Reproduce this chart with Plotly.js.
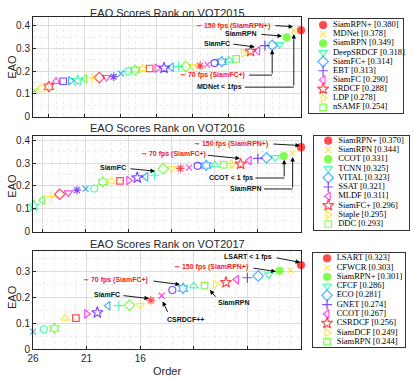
<!DOCTYPE html>
<html><head><meta charset="utf-8">
<script src="https://cdn.plot.ly/plotly-3.0.1.min.js"></script>
<style>html,body{margin:0;padding:0;background:#fff}#chart{width:414px;height:379px}</style>
</head><body><div id="chart"></div>
<script>
// ---------------- data ----------------
const titles = ['EAO Scores Rank on VOT2015', 'EAO Scores Rank on VOT2016', 'EAO Scores Rank on VOT2017'];
const yLabel = 'EAO';
const xLabel = 'Order';

// EAO by rank (rank 1 first)
const eao2015 = [0.380, 0.378, 0.349, 0.318, 0.314, 0.313, 0.290, 0.288, 0.278, 0.254,
  0.248, 0.242, 0.236, 0.229, 0.224, 0.222, 0.221, 0.221, 0.218, 0.214,
  0.213, 0.212, 0.212, 0.205, 0.199, 0.190, 0.176, 0.173, 0.172, 0.171,
  0.167, 0.159, 0.158, 0.156, 0.155, 0.132, 0.124, 0.114];
const names2015 = ['SiamRPN+', 'MDNet', 'SiamRPN', 'DeepSRDCF', 'SiamFC+', 'EBT', 'SiamFC', 'SRDCF', 'LDP', 'nSAMF'];

const eao2016 = [0.370, 0.344, 0.331, 0.325, 0.323, 0.321, 0.311, 0.296, 0.295, 0.293,
  0.292, 0.290, 0.288, 0.280, 0.277, 0.276, 0.275, 0.247, 0.240, 0.236,
  0.224, 0.222, 0.221, 0.218, 0.189, 0.188, 0.182, 0.170, 0.164, 0.154,
  0.138, 0.113];
const names2016 = ['SiamRPN+', 'SiamRPN', 'CCOT', 'TCNN', 'VITAL', 'SSAT', 'MLDF', 'SiamFC+', 'Staple', 'DDC'];

const eao2017 = [0.323, 0.303, 0.301, 0.286, 0.281, 0.274, 0.267, 0.256, 0.249, 0.244,
  0.242, 0.233, 0.227, 0.205, 0.187, 0.168, 0.168, 0.167, 0.166, 0.140,
  0.135, 0.119, 0.118, 0.079, 0.076, 0.067];
const names2017 = ['LSART', 'CFWCR', 'SiamRPN+', 'CFCF', 'ECO', 'GNET', 'CCOT', 'CSRDCF', 'SiamDCF', 'SiamRPN'];

const xTicks2017 = [26, 21, 16, 11, 6, 1];
const xTickText2017 = ['26', '21', '16', '', '', ''];

// ---------------- styles ----------------
const hsv7 = ['#ff0000', '#ffdb00', '#49ff00', '#00ff92', '#0092ff', '#4900ff', '#ff00db'];
const symCycle = ['circle-open', 'x-thin-open', 'asterisk-open', 'triangle-down-open', 'diamond-open',
  'cross-thin-open', 'triangle-left-open', 'star-open', 'triangle-right-open', 'square-open',
  'triangle-up-open', 'hexagram-open'];
const symSize = {'circle': 7, 'circle-open': 7, 'x-thin-open': 6, 'asterisk-open': 7, 'triangle-down-open': 7.5,
  'diamond-open': 8, 'cross-thin-open': 7, 'triangle-left-open': 7.5, 'star-open': 8.5,
  'triangle-right-open': 7.5, 'square-open': 6.5, 'triangle-up-open': 7.5, 'hexagram-open': 8};
function styleFor(rank) {
  let sym = symCycle[(rank - 1) % 12];
  if (rank === 1 || rank === 3) sym = 'circle';
  return {color: hsv7[(rank - 1) % 7], sym: sym, size: symSize[sym]};
}

const W = 414, H = 379;
const fx = px => px / W;
const fy = py => 1 - py / H;
const plotX = [33, 301];
const panelY = [[16.7, 116.7], [135.7, 231.7], [251, 349]];
const yMax = [0.44, 0.42, 0.377];
const xMax = [38.2, 32.1, 26];
const titleY = [12.7, 128.3, 243.5];
const eaoLabelY = [66.7, 185.7, 297];
const legBox = [
  {x: [309, 403], y: [19, 113], r: [10.62, 0.344]},
  {x: [314, 409], y: [136, 230], r: [10.65, 0.49]},
  {x: [313.3, 405], y: [253.3, 346.7], r: [10.54, 0.46]}
];

const panels = [
  {vals: eao2015, names: names2015, ticks: [36, 31, 26, 21, 16, 11, 6, 1], labels: null},
  {vals: eao2016, names: names2016, ticks: [31, 26, 21, 16, 11, 6, 1], labels: null},
  {vals: eao2017, names: names2017, ticks: xTicks2017, labels: xTickText2017}
];

const RED = '#ee1c1c', BLK = '#111111';
// callouts: text position + path (last segment carries the arrow)
const callouts = [
  {p: 0, text: '∼ 150 fps (SiamRPN+)', c: RED, at: [10.44, 0.399], path: [[4.75, 0.401], [2.1, 0.396]]},
  {p: 0, text: 'SiamRPN', c: BLK, at: [9.3, 0.364], path: [[6.7, 0.3625], [3.64, 0.355]]},
  {p: 0, text: 'SiamFC', c: BLK, at: [12.7, 0.324], path: [[10.6, 0.32], [7.4, 0.307]]},
  {p: 0, text: '∼ 70 fps (SiamFC+)', c: RED, at: [13.3, 0.183], path: [[8.2, 0.183], [5.0, 0.183], [5.0, 0.295]]},
  {p: 0, text: 'MDNet < 1fps', c: BLK, at: [12.25, 0.13], path: [[8.8, 0.13], [2.0, 0.13], [2.0, 0.364]]},

  {p: 1, text: '∼ 150 fps (SiamRPN+)', c: RED, at: [9.12, 0.384], path: [[4.37, 0.384], [1.12, 0.377]]},
  {p: 1, text: '∼ 70 fps (SiamFC+)', c: RED, at: [15.85, 0.34], path: [[12.0, 0.335], [8.08, 0.32]]},
  {p: 1, text: 'SiamFC', c: BLK, at: [22.76, 0.279], path: [[20.96, 0.276], [17.94, 0.265]]},
  {p: 1, text: 'CCOT < 1 fps', c: BLK, at: [9.18, 0.235], path: [[6.3, 0.235], [2.95, 0.235], [2.95, 0.315]]},
  {p: 1, text: 'SiamRPN', c: BLK, at: [7.38, 0.187], path: [[5.3, 0.187], [1.97, 0.187], [1.97, 0.327]]},

  {p: 2, text: 'LSART < 1 fps', c: BLK, at: [5.94, 0.354], path: [[3.43, 0.352], [1.09, 0.333]]},
  {p: 2, text: '∼ 150 fps (SiamRPN+)', c: RED, at: [9.4, 0.315], path: [[5.57, 0.312], [3.35, 0.298]]},
  {p: 2, text: '∼ 70 fps (SiamFC+)', c: RED, at: [18.26, 0.265], path: [[14.9, 0.262], [12.29, 0.248]]},
  {p: 2, text: 'SiamFC', c: BLK, at: [19.14, 0.208], path: [[17.7, 0.206], [15.18, 0.194]]},
  {p: 2, text: 'CSRDCF++', c: BLK, at: [11.73, 0.115], path: [[13.38, 0.137], [13.9, 0.183]]},
  {p: 2, text: 'SiamRPN', c: BLK, at: [7.25, 0.177], path: [[8.86, 0.195], [9.5, 0.227]]}
];

// ---------------- build ----------------
const traces = [];
const layout = {
  width: W, height: H, margin: {l: 0, r: 0, t: 0, b: 0},
  paper_bgcolor: '#fff', plot_bgcolor: '#fff', showlegend: false,
  font: {family: 'Liberation Sans, Arial, sans-serif', color: '#262626'},
  annotations: [], shapes: []
};
const tickFont = {family: 'Liberation Sans, Arial, sans-serif', size: 10, color: '#262626'};

panels.forEach((pn, i) => {
  const s = i === 0 ? '' : String(i + 1);
  const ranks = pn.vals.map((_, k) => k + 1);
  const st = ranks.map(styleFor);
  traces.push({
    type: 'scatter', mode: 'markers', x: ranks, y: pn.vals, xaxis: 'x' + s, yaxis: 'y' + s,
    cliponaxis: false, hoverinfo: 'skip',
    marker: {symbol: st.map(o => o.sym), color: st.map(o => o.color), size: st.map(o => o.size),
      line: {color: st.map(o => o.color), width: 1.2}}
  });
  layout['xaxis' + s] = {
    domain: [fx(plotX[0]), fx(plotX[1])], range: [xMax[i], 1], anchor: 'y' + s,
    tickmode: 'array', tickvals: pn.ticks, ticktext: pn.labels || pn.ticks.map(String),
    showticklabels: !!pn.labels, tickfont: tickFont,
    showline: true, mirror: true, linecolor: '#262626', linewidth: 1,
    ticks: 'inside', ticklen: 3, tickcolor: '#262626',
    showgrid: true, gridcolor: '#dcdcdc', gridwidth: 1, zeroline: false,
    minor: {tickmode: 'linear', tick0: 0, dtick: 1, showgrid: true, gridcolor: '#ececec', griddash: 'dot', ticks: ''}
  };
  layout['yaxis' + s] = {
    domain: [fy(panelY[i][1]), fy(panelY[i][0])], range: [0, yMax[i]], anchor: 'x' + s,
    tickmode: 'linear', tick0: 0, dtick: 0.1, tickformat: '.1~f', tickfont: tickFont,
    showline: true, mirror: true, linecolor: '#262626', linewidth: 1,
    ticks: 'inside', ticklen: 3, tickcolor: '#262626',
    showgrid: true, gridcolor: '#dcdcdc', gridwidth: 1, zeroline: false,
    minor: {tickmode: 'linear', tick0: 0, dtick: 0.05, showgrid: true, gridcolor: '#ececec', griddash: 'dot', ticks: ''}
  };
  // titles
  layout.annotations.push({xref: 'paper', yref: 'paper', x: fx(167), y: fy(titleY[i]), text: titles[i],
    showarrow: false, xanchor: 'center', yanchor: 'middle', font: {size: 11, color: '#262626'}});
  layout.annotations.push({xref: 'paper', yref: 'paper', x: fx(12), y: fy(eaoLabelY[i]), text: yLabel,
    textangle: -90, showarrow: false, xanchor: 'center', yanchor: 'middle', font: {size: 11, color: '#262626'}});

  // custom legend box (top 10)
  const L = legBox[i];
  const ls = String(i + 4);
  const top = pn.names.map((_, k) => k + 1);
  const tst = top.map(styleFor);
  traces.push({
    type: 'scatter', mode: 'markers', x: top.map(() => 0.15), y: top, xaxis: 'x' + ls, yaxis: 'y' + ls,
    cliponaxis: false, hoverinfo: 'skip',
    marker: {symbol: tst.map(o => o.sym), color: tst.map(o => o.color), size: tst.map(o => o.size),
      line: {color: tst.map(o => o.color), width: 1.2}}
  });
  traces.push({
    type: 'scatter', mode: 'text', x: top.map(() => 0.255), y: top, xaxis: 'x' + ls, yaxis: 'y' + ls,
    cliponaxis: false, hoverinfo: 'skip',
    text: pn.names.map((n, k) => n + ' [' + pn.vals[k].toFixed(3) + ']'),
    textposition: 'middle right',
    textfont: {family: 'Liberation Serif, Times New Roman, serif', size: 8.5, color: '#000'}
  });
  layout['xaxis' + ls] = {domain: [fx(L.x[0]), fx(L.x[1])], range: [0, 1], anchor: 'y' + ls,
    showline: true, mirror: true, linecolor: '#333', linewidth: 1.3, showgrid: false, zeroline: false,
    showticklabels: false, ticks: '', fixedrange: true};
  layout['yaxis' + ls] = {domain: [fy(L.y[1]), fy(L.y[0])], range: L.r, anchor: 'x' + ls,
    showline: true, mirror: true, linecolor: '#333', linewidth: 1.3, showgrid: false, zeroline: false,
    showticklabels: false, ticks: '', fixedrange: true};
});

layout.annotations.push({xref: 'paper', yref: 'paper', x: fx(167), y: fy(371), text: xLabel,
  showarrow: false, xanchor: 'center', yanchor: 'middle', font: {size: 11, color: '#262626'}});

callouts.forEach(co => {
  const s = co.p === 0 ? '' : String(co.p + 1);
  const xr = 'x' + s, yr = 'y' + s;
  layout.annotations.push({xref: xr, yref: yr, x: co.at[0], y: co.at[1], text: '<b>' + co.text + '</b>',
    showarrow: false, xanchor: 'center', yanchor: 'middle',
    font: {family: 'Liberation Sans, Arial, sans-serif', size: 7, color: co.c}});
  const pts = co.path;
  for (let k = 0; k < pts.length - 2; k++) {
    layout.shapes.push({type: 'line', xref: xr, yref: yr, x0: pts[k][0], y0: pts[k][1],
      x1: pts[k + 1][0], y1: pts[k + 1][1], line: {color: '#000', width: 0.9}});
  }
  const a = pts[pts.length - 2], b = pts[pts.length - 1];
  layout.annotations.push({xref: xr, yref: yr, axref: xr, ayref: yr, x: b[0], y: b[1], ax: a[0], ay: a[1],
    text: '', showarrow: true, arrowhead: 2, arrowsize: 1, arrowwidth: 0.9, arrowcolor: '#000', standoff: 0});
});

Plotly.newPlot('chart', traces, layout, {staticPlot: true, displayModeBar: false});
</script>
</body></html>
